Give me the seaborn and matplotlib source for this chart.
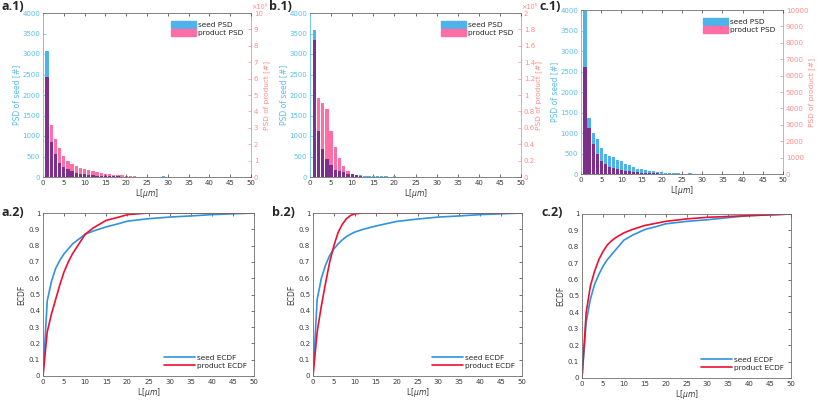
"""
Seed / product particle size distributions and their ECDFs
"""

import matplotlib
matplotlib.use("Agg")
import matplotlib.pyplot as plt
from matplotlib.ticker import FuncFormatter
from matplotlib.patches import Patch
from matplotlib.lines import Line2D
import seaborn as sns
import numpy as np

sns.set_style("white")
plt.rcParams["font.family"] = ["DejaVu Sans"]

# ---------------------------------------------------
# Data
# ---------------------------------------------------
sizes = list(range(1, 51))

seed_a = [3080, 850, 550, 350, 250, 190, 140, 100, 80, 65, 55, 45, 35, 30, 25,
          20, 16, 13, 11, 9, 8, 7, 6, 5, 5, 4, 4, 3, 15, 3,
          2, 2, 2, 2, 2, 1, 1, 1, 1, 1, 1, 1, 1, 1, 1, 1, 1, 1, 1, 1]
product_a = [61000, 32000, 23000, 17500, 13000, 10000, 8200, 6700, 5700, 5000,
             4200, 3500, 3000, 2500, 2100, 1700, 1400, 1100, 1000, 750,
             500, 380, 250, 150, 100, 60, 40, 20, 10] + [0] * 21

seed_b = [3580, 1130, 680, 450, 290, 175, 140, 110, 85, 70, 60, 45, 35, 30, 25,
          20, 18, 15, 12, 20, 10, 8, 8, 7, 6, 6, 5, 5, 5, 5,
          4, 4, 4, 3, 3, 3, 3, 3, 3, 3, 2, 2, 2, 2, 2, 2, 2, 2, 2, 2]
product_b = [167000, 96500, 90000, 82500, 56000, 36000, 23000, 14000, 7500, 4000,
             2000, 1000, 500, 200, 100] + [0] * 35

seed_c = [3970, 1360, 990, 850, 630, 480, 440, 410, 340, 310, 250, 210, 160, 130,
          110, 100, 80, 70, 50, 40, 30, 25, 20, 15, 12, 10, 15, 8, 7, 6,
          5, 5, 4, 4, 4, 3, 3, 3, 3, 3, 3, 2, 2, 2, 2, 2, 2, 2, 2, 2]
product_c = [6550, 2825, 1800, 1225, 800, 625, 450, 350, 275, 225, 200, 175, 140,
             110, 90, 75, 60, 50, 40, 30, 25, 20, 15, 12, 10,
             8, 7, 6, 5, 5, 4, 4, 3, 3, 3, 2, 2, 2, 2, 2,
             1, 1, 1, 1, 1, 1, 1, 1, 1, 1]

ecdf_x = [0, 1, 2, 3, 4, 5, 6, 7, 8, 9, 10, 12, 15, 18, 20, 25, 30, 35, 40, 45, 50]

ecdf_seed_a = [0, 0.46, 0.58, 0.66, 0.71, 0.75, 0.78, 0.81, 0.83, 0.85, 0.87,
               0.89, 0.915, 0.935, 0.95, 0.965, 0.975, 0.982, 0.99, 0.995, 1.0]
ecdf_product_a = [0, 0.27, 0.38, 0.47, 0.56, 0.64, 0.70, 0.75, 0.79, 0.83, 0.87,
                  0.91, 0.955, 0.975, 0.99, 1.0, 1.0, 1.0, 1.0, 1.0, 1.0]

ecdf_seed_b = [0, 0.47, 0.60, 0.68, 0.74, 0.78, 0.81, 0.835, 0.855, 0.87, 0.883,
               0.90, 0.92, 0.937, 0.948, 0.963, 0.975, 0.982, 0.99, 0.995, 1.0]
ecdf_product_b = [0, 0.27, 0.43, 0.57, 0.70, 0.80, 0.88, 0.93, 0.965, 0.985, 0.995,
                  1.0, 1.0, 1.0, 1.0, 1.0, 1.0, 1.0, 1.0, 1.0, 1.0]

ecdf_seed_c = [0, 0.34, 0.48, 0.57, 0.63, 0.68, 0.72, 0.75, 0.78, 0.81, 0.84,
               0.87, 0.905, 0.925, 0.94, 0.955, 0.965, 0.978, 0.99, 0.995, 1.0]
ecdf_product_c = [0, 0.40, 0.56, 0.65, 0.72, 0.77, 0.81, 0.835, 0.855, 0.87, 0.885,
                  0.905, 0.93, 0.945, 0.955, 0.97, 0.98, 0.985, 0.99, 0.995, 1.0]

# ---------------------------------------------------
# Style
# ---------------------------------------------------
SEED_COLOR = "#4DB3EA"
PRODUCT_COLOR = "#FF6FA5"
OVERLAP_COLOR = "#7E2F8E"
LEFT_AXIS = "#5BBDEB"
RIGHT_AXIS = "#FF8A8A"
FRAME = "#6E6E6E"
SEED_LINE = "#2F93E0"
PRODUCT_LINE = "#EE1030"
FS = 5.0

W, H = 817, 400
fig = plt.figure(figsize=(W / 100, H / 100), dpi=100)


def add_axes(x0, x1, y0, y1):
    return fig.add_axes([x0 / W, 1 - y1 / H, (x1 - x0) / W, (y1 - y0) / H])


def panel_label(x, y, text):
    fig.text(x / W, 1 - y / H, text, fontsize=9, fontweight="bold",
             family=["Open Sans", "DejaVu Sans"], ha="left", va="center")


def style_frame(ax):
    for side in ["top", "bottom", "left", "right"]:
        ax.spines[side].set_color(FRAME)
        ax.spines[side].set_linewidth(0.6)
    ax.tick_params(direction="in", length=2, width=0.5, labelsize=FS,
                   colors="#3A3A3A", pad=2)
    ax.set_xlim(0, 50)
    ax.set_xticks(range(0, 51, 5))
    ax.set_xlabel("L[$\\mu m$]", fontsize=FS + 0.5, color="#3A3A3A", labelpad=1)


def bars(ax, values, color):
    sns.barplot(x=sizes, y=values, native_scale=True, width=0.8, errorbar=None,
                color=color, saturation=1, linewidth=0, ax=ax)


# ---------------------------------------------------
# PSD histogram (seed on left axis, product on right)
# ---------------------------------------------------
def psd_panel(box, seed, product, right_max, right_step, scale, exponent, label):
    ax = add_axes(*box)
    ax2 = ax.twinx()
    ax.set_zorder(ax2.get_zorder() + 1)
    ax.patch.set_visible(False)

    bars(ax2, product, PRODUCT_COLOR)
    bars(ax, seed, SEED_COLOR)
    overlap = np.minimum(np.array(seed, float), np.array(product, float) * 4000 / right_max)
    bars(ax, overlap, OVERLAP_COLOR)

    style_frame(ax)
    ax.set_ylim(0, 4000)
    ax.set_yticks(range(0, 4001, 500))
    ax.tick_params(axis="y", colors=LEFT_AXIS, right=False, left=True)
    ax.tick_params(axis="x", top=True, bottom=True)
    ax.spines["left"].set_color(LEFT_AXIS)
    ax.spines["right"].set_visible(False)
    ax.set_ylabel("PSD of seed [#]", fontsize=FS + 0.5, color=LEFT_AXIS, labelpad=1)

    ax2.set_xlim(0, 50)
    ax2.set_ylim(0, right_max)
    ax2.set_yticks(np.arange(0, right_max + right_step / 2, right_step))
    ax2.yaxis.set_major_formatter(FuncFormatter(lambda v, p: f"{v / scale:g}"))
    ax2.tick_params(axis="y", direction="in", length=2, width=0.5, labelsize=FS,
                    colors=RIGHT_AXIS, pad=2)
    for side in ["top", "bottom", "left"]:
        ax2.spines[side].set_visible(False)
    ax2.spines["right"].set_color(RIGHT_AXIS)
    ax2.spines["right"].set_linewidth(0.6)
    ax2.set_ylabel("PSD of product [#]", fontsize=FS + 0.3, color=RIGHT_AXIS, labelpad=0)
    if exponent:
        ax2.text(1.0, 1.02, exponent, transform=ax2.transAxes, fontsize=FS - 0.3,
                 color=RIGHT_AXIS, ha="left", va="bottom")

    ax.legend(handles=[Patch(color=SEED_COLOR, label="seed PSD"),
                       Patch(color=PRODUCT_COLOR, label="product PSD")],
              loc="upper right", frameon=False, fontsize=FS + 0.3,
              handlelength=3.4, handleheight=1.1, handletextpad=0.2,
              labelspacing=0.15, borderaxespad=0.7)
    panel_label(box[0] - 41, 7, label)


# ---------------------------------------------------
# ECDF curves
# ---------------------------------------------------
def ecdf_panel(box, seed, product, label):
    ax = add_axes(*box)
    sns.lineplot(x=ecdf_x, y=seed, color=SEED_LINE, linewidth=1.2, ax=ax)
    sns.lineplot(x=ecdf_x, y=product, color=PRODUCT_LINE, linewidth=1.2, ax=ax)
    style_frame(ax)
    ax.tick_params(top=True, right=True)
    ax.set_ylim(0, 1)
    ax.set_yticks(np.round(np.arange(0, 1.01, 0.1), 1))
    ax.yaxis.set_major_formatter(FuncFormatter(lambda v, p: f"{v:g}"))
    ax.set_ylabel("ECDF", fontsize=FS + 0.5, color="#3A3A3A", labelpad=2)
    ax.legend(handles=[Line2D([], [], color=SEED_LINE, lw=1.2, label="seed ECDF"),
                       Line2D([], [], color=PRODUCT_LINE, lw=1.2, label="product ECDF")],
              loc="lower right", frameon=False, fontsize=FS + 0.3,
              handlelength=4.2, handletextpad=0.2, labelspacing=0.2,
              borderaxespad=0.6)
    panel_label(box[0] - 41, box[2] - 1, label)


psd_panel((43, 251, 13, 177), seed_a, product_a, 100000, 10000, 1e4, "×10⁴", "a.1)")
psd_panel((310, 521, 13, 177), seed_b, product_b, 200000, 20000, 1e5, "×10⁵", "b.1)")
psd_panel((581, 783, 10, 174), seed_c, product_c, 10000, 1000, 1, "", "c.1)")

ecdf_panel((43, 254, 213, 376), ecdf_seed_a, ecdf_product_a, "a.2)")
ecdf_panel((313, 522, 213, 376), ecdf_seed_b, ecdf_product_b, "b.2)")
ecdf_panel((582, 791, 214, 378), ecdf_seed_c, ecdf_product_c, "c.2)")

fig.savefig("out.png", dpi=100)
plt.close(fig)
